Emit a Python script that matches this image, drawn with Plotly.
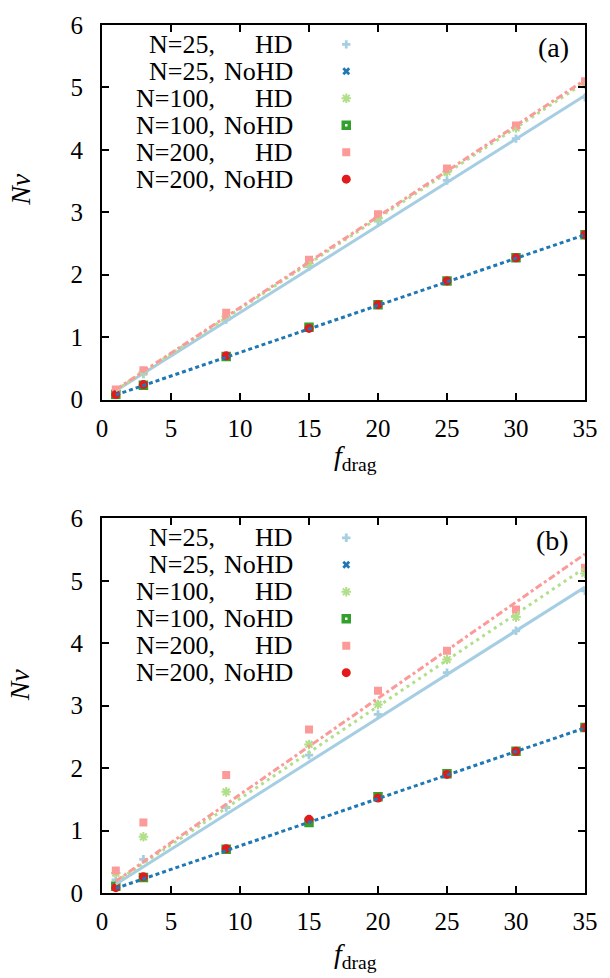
import plotly.graph_objects as go

# ---------------- data ----------------
f_drag = [1, 3, 9, 15, 20, 25, 30, 35]

# panel (a)
a_N25_HD = [0.13, 0.41, 1.28, 2.13, 2.86, 3.51, 4.18, 4.84]
a_N25_NoHD = [0.08, 0.23, 0.69, 1.15, 1.52, 1.90, 2.27, 2.64]
a_N100_HD = [0.14, 0.44, 1.33, 2.18, 2.91, 3.65, 4.35, 5.05]
a_N100_NoHD = [0.08, 0.23, 0.69, 1.16, 1.52, 1.90, 2.27, 2.64]
a_N200_HD = [0.16, 0.47, 1.39, 2.24, 2.97, 3.70, 4.39, 5.10]
a_N200_NoHD = [0.08, 0.24, 0.70, 1.14, 1.52, 1.90, 2.27, 2.64]

# panel (b)
b_N25_HD = [0.21, 0.54, 1.37, 2.21, 2.86, 3.53, 4.20, 4.84]
b_N25_NoHD = [0.09, 0.25, 0.70, 1.16, 1.53, 1.90, 2.27, 2.64]
b_N100_HD = [0.32, 0.90, 1.62, 2.38, 3.02, 3.74, 4.42, 5.12]
b_N100_NoHD = [0.11, 0.25, 0.70, 1.13, 1.54, 1.91, 2.27, 2.65]
b_N200_HD = [0.36, 1.13, 1.89, 2.62, 3.24, 3.88, 4.54, 5.21]
b_N200_NoHD = [0.085, 0.26, 0.71, 1.18, 1.52, 1.90, 2.27, 2.65]

# linear fit lines, value at the ends f_drag = 1 and 35
fit_x = [1, 35]
a_fit_N25_HD = [0.14, 4.87]
a_fit_N100_HD = [0.15, 5.08]
a_fit_N200_HD = [0.16, 5.12]
a_fit_NoHD = [0.075, 2.64]
b_fit_N25_HD = [0.14, 4.90]
b_fit_N100_HD = [0.18, 5.21]
b_fit_N200_HD = [0.19, 5.43]
b_fit_NoHD = [0.075, 2.645]

series_N = ["N=25,", "N=25,", "N=100,", "N=100,", "N=200,", "N=200,"]
series_model = ["HD", "NoHD", "HD", "NoHD", "HD", "NoHD"]
panel_labels = ["(a)", "(b)"]
x_ticks = [0, 5, 10, 15, 20, 25, 30, 35]
y_ticks = [0, 1, 2, 3, 4, 5, 6]

# ---------------- styles ----------------
FONT = "Liberation Serif, Times New Roman, Times, DejaVu Serif, serif"
colors = ["#a6cee3", "#1f78b4", "#b2df8a", "#33a02c", "#fb9a99", "#e31a1c"]
markers = [
    dict(symbol="cross", size=7, color=colors[0]),
    dict(symbol="x", size=7, color=colors[1]),
    dict(symbol="asterisk-open", size=8, color=colors[2], line=dict(color=colors[2], width=2)),
    dict(symbol="square-open", size=6, color=colors[3], line=dict(color=colors[3], width=3.5)),
    dict(symbol="square", size=8, color=colors[4]),
    dict(symbol="circle", size=9, color=colors[5]),
]

fig = go.Figure()

panels = [
    ("x", "y", [a_N25_HD, a_N25_NoHD, a_N100_HD, a_N100_NoHD, a_N200_HD, a_N200_NoHD],
     [a_fit_N25_HD, a_fit_N100_HD, a_fit_N200_HD, a_fit_NoHD]),
    ("x2", "y2", [b_N25_HD, b_N25_NoHD, b_N100_HD, b_N100_NoHD, b_N200_HD, b_N200_NoHD],
     [b_fit_N25_HD, b_fit_N100_HD, b_fit_N200_HD, b_fit_NoHD]),
]

fit_styles = [
    dict(color=colors[0], width=3, dash="solid"),
    dict(color=colors[2], width=3, dash="3px,4px"),
    dict(color=colors[4], width=3, dash="7px,3px,3px,3px"),
    dict(color=colors[1], width=3, dash="4px,3px"),
]

# legend key geometry (in data units of each panel)
LEG_MARK_X = 17.7
LEG_NTXT_X = 8.3
LEG_MTXT_X = 13.95
LEG_Y0 = 5.69
LEG_DY = 0.432

annotations = []
for pi, (xa, ya, series, fits) in enumerate(panels):
    for si, vals in enumerate(series):
        fig.add_trace(go.Scatter(x=f_drag, y=vals, mode="markers", marker=markers[si],
                                 xaxis=xa, yaxis=ya, showlegend=False, hoverinfo="skip"))
    for fi, fv in enumerate(fits):
        fig.add_trace(go.Scatter(x=fit_x, y=fv, mode="lines", line=fit_styles[fi],
                                 xaxis=xa, yaxis=ya, showlegend=False, hoverinfo="skip"))
    # hand-made legend: text on the left, symbol on the right
    for si in range(len(series_N)):
        yy = LEG_Y0 - LEG_DY * si
        fig.add_trace(go.Scatter(x=[LEG_MARK_X], y=[yy], mode="markers", marker=markers[si],
                                 xaxis=xa, yaxis=ya, showlegend=False, hoverinfo="skip"))
        annotations.append(dict(x=LEG_NTXT_X, y=yy, xref=xa, yref=ya, text=series_N[si],
                                showarrow=False, xanchor="right", yanchor="middle",
                                font=dict(family=FONT, size=26, color="black")))
        annotations.append(dict(x=LEG_MTXT_X, y=yy, xref=xa, yref=ya, text=series_model[si],
                                showarrow=False, xanchor="right", yanchor="middle",
                                font=dict(family=FONT, size=26, color="black")))

# panel labels
annotations.append(dict(x=0.972, y=0.974, xref="paper", yref="paper", text=panel_labels[0],
                        showarrow=False, xanchor="right", yanchor="middle",
                        font=dict(family=FONT, size=28, color="black")))
annotations.append(dict(x=0.972, y=0.406, xref="paper", yref="paper", text=panel_labels[1],
                        showarrow=False, xanchor="right", yanchor="middle",
                        font=dict(family=FONT, size=28, color="black")))
# axis titles
for yv in (0.8105, 0.2397):
    annotations.append(dict(x=-0.169, y=yv, xref="paper", yref="paper", text="<i>Nν</i>",
                            showarrow=False, xanchor="center", yanchor="middle", textangle=-90,
                            font=dict(family=FONT, size=28, color="black")))
for yv in ((893 - 453) / 876, (893 - 956) / 876):
    annotations.append(dict(x=(335 - 102) / 490, y=yv, xref="paper", yref="paper",
                            text="<i>f</i><sub>drag</sub>",
                            showarrow=False, xanchor="left", yanchor="middle",
                            font=dict(family=FONT, size=28, color="black")))

axis_common = dict(showline=True, linewidth=2, linecolor="black", mirror="ticks",
                   ticks="inside", ticklen=7, tickwidth=1.5, tickcolor="black",
                   showgrid=False, zeroline=False,
                   tickfont=dict(family=FONT, size=25, color="black"))

fig.update_layout(
    width=610, height=978,
    margin=dict(l=102, r=18, t=17, b=85),
    paper_bgcolor="white", plot_bgcolor="white",
    showlegend=False,
    font=dict(family=FONT, color="black"),
    xaxis=dict(axis_common, range=[0, 35], tickvals=x_ticks, anchor="y", domain=[0, 1],
               ticklabelstandoff=5),
    yaxis=dict(axis_common, range=[0, 6], tickvals=y_ticks, anchor="x",
               domain=[1 - 378 / 876, 1], ticklabelstandoff=12),
    xaxis2=dict(axis_common, range=[0, 35], tickvals=x_ticks, anchor="y2", domain=[0, 1],
                ticklabelstandoff=5),
    yaxis2=dict(axis_common, range=[0, 6], tickvals=y_ticks, anchor="x2",
                domain=[0, 378 / 876], ticklabelstandoff=12),
    annotations=annotations,
)

fig.write_html("out.html", config={"displayModeBar": False},
               post_script="document.body.style.margin='0';document.body.style.overflow='hidden';")
